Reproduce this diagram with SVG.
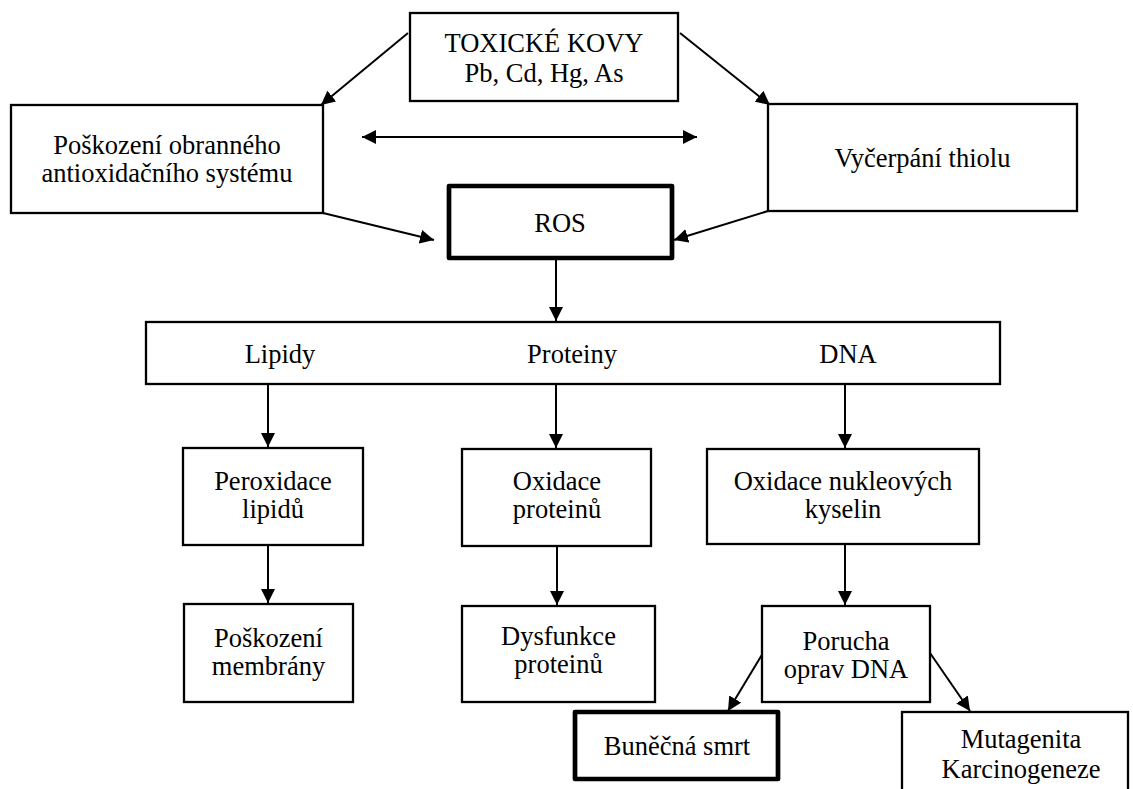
<svg xmlns="http://www.w3.org/2000/svg" width="1133" height="789" viewBox="0 0 1133 789">
<style>
.box{fill:#fff;stroke:#000;stroke-width:2.3}
.thick{fill:#fff;stroke:#000;stroke-width:4.7;stroke-linejoin:round}
.t{font-family:"Liberation Serif","Times New Roman",serif;font-size:26.5px;fill:#000;text-anchor:middle}
.c{stroke:#000;stroke-width:2;fill:none;marker-end:url(#ah)}
</style>
<defs>
<marker id="ah" markerUnits="userSpaceOnUse" markerWidth="14" markerHeight="14" refX="14" refY="7" orient="auto-start-reverse" viewBox="0 0 14 14">
<path d="M0,0 L14,7 L0,14 z" fill="#000"/>
</marker>
</defs>
<rect width="1133" height="789" fill="#fff"/>
<g id="connectors">
<line class="c" x1="408" y1="33" x2="321" y2="105"/>
<line class="c" x1="680" y1="33" x2="770" y2="105"/>
<line class="c" x1="362" y1="137" x2="697" y2="137" marker-start="url(#ah)"/>
<line class="c" x1="323" y1="213" x2="434" y2="240"/>
<line class="c" x1="768" y1="211" x2="674" y2="240"/>
<line class="c" x1="556" y1="259" x2="556" y2="321"/>
<line class="c" x1="268" y1="384" x2="268" y2="447"/>
<line class="c" x1="556" y1="384" x2="556" y2="448"/>
<line class="c" x1="845" y1="384" x2="845" y2="448"/>
<line class="c" x1="268" y1="545" x2="268" y2="603"/>
<line class="c" x1="557" y1="546" x2="557" y2="605"/>
<line class="c" x1="845" y1="544" x2="845" y2="605"/>
<line class="c" x1="763" y1="653" x2="728" y2="711"/>
<line class="c" x1="930" y1="653" x2="970" y2="711"/>
</g>
<g id="toxicke">
<rect class="box" x="410" y="13" width="268" height="88"/>
<text class="t" x="544" y="52">TOXICKÉ KOVY</text>
<text class="t" x="544" y="82">Pb, Cd, Hg, As</text>
</g>
<g id="poskozeni-obranneho">
<rect class="box" x="11" y="105" width="312" height="108"/>
<text class="t" x="167" y="154">Poškození obranného</text>
<text class="t" x="167" y="182">antioxidačního systému</text>
</g>
<g id="vycerpani">
<rect class="box" x="768" y="104" width="309" height="107"/>
<text class="t" x="922.5" y="167">Vyčerpání thiolu</text>
</g>
<g id="ros">
<rect class="thick" x="449" y="186" width="223" height="72"/>
<text class="t" x="560" y="232">ROS</text>
</g>
<g id="targets">
<rect class="box" x="146" y="322" width="854" height="62"/>
<text class="t" x="280" y="363">Lipidy</text>
<text class="t" x="572" y="363">Proteiny</text>
<text class="t" x="848" y="363">DNA</text>
</g>
<g id="peroxidace">
<rect class="box" x="183" y="448" width="180" height="97"/>
<text class="t" x="273" y="490">Peroxidace</text>
<text class="t" x="273" y="518">lipidů</text>
</g>
<g id="oxidace-proteinu">
<rect class="box" x="462" y="449" width="189" height="97"/>
<text class="t" x="557" y="490">Oxidace</text>
<text class="t" x="557" y="518">proteinů</text>
</g>
<g id="oxidace-nukleovych">
<rect class="box" x="707" y="449" width="272" height="95"/>
<text class="t" x="843" y="490">Oxidace nukleových</text>
<text class="t" x="843" y="518">kyselin</text>
</g>
<g id="poskozeni-membrany">
<rect class="box" x="184" y="604" width="169" height="98"/>
<text class="t" x="268.5" y="647">Poškození</text>
<text class="t" x="268.5" y="675">membrány</text>
</g>
<g id="dysfunkce">
<rect class="box" x="462" y="606" width="193" height="96"/>
<text class="t" x="558.5" y="645">Dysfunkce</text>
<text class="t" x="558.5" y="673">proteinů</text>
</g>
<g id="porucha">
<rect class="box" x="762" y="606" width="168" height="96"/>
<text class="t" x="846" y="650">Porucha</text>
<text class="t" x="846" y="678">oprav DNA</text>
</g>
<g id="bunecna-smrt">
<rect class="thick" x="575" y="712" width="203" height="67"/>
<text class="t" x="677" y="755">Buněčná smrt</text>
</g>
<g id="mutagenita">
<rect class="box" x="902" y="712" width="226" height="100"/>
<text class="t" x="1021" y="748">Mutagenita</text>
<text class="t" x="1021" y="778">Karcinogeneze</text>
</g>
</svg>
